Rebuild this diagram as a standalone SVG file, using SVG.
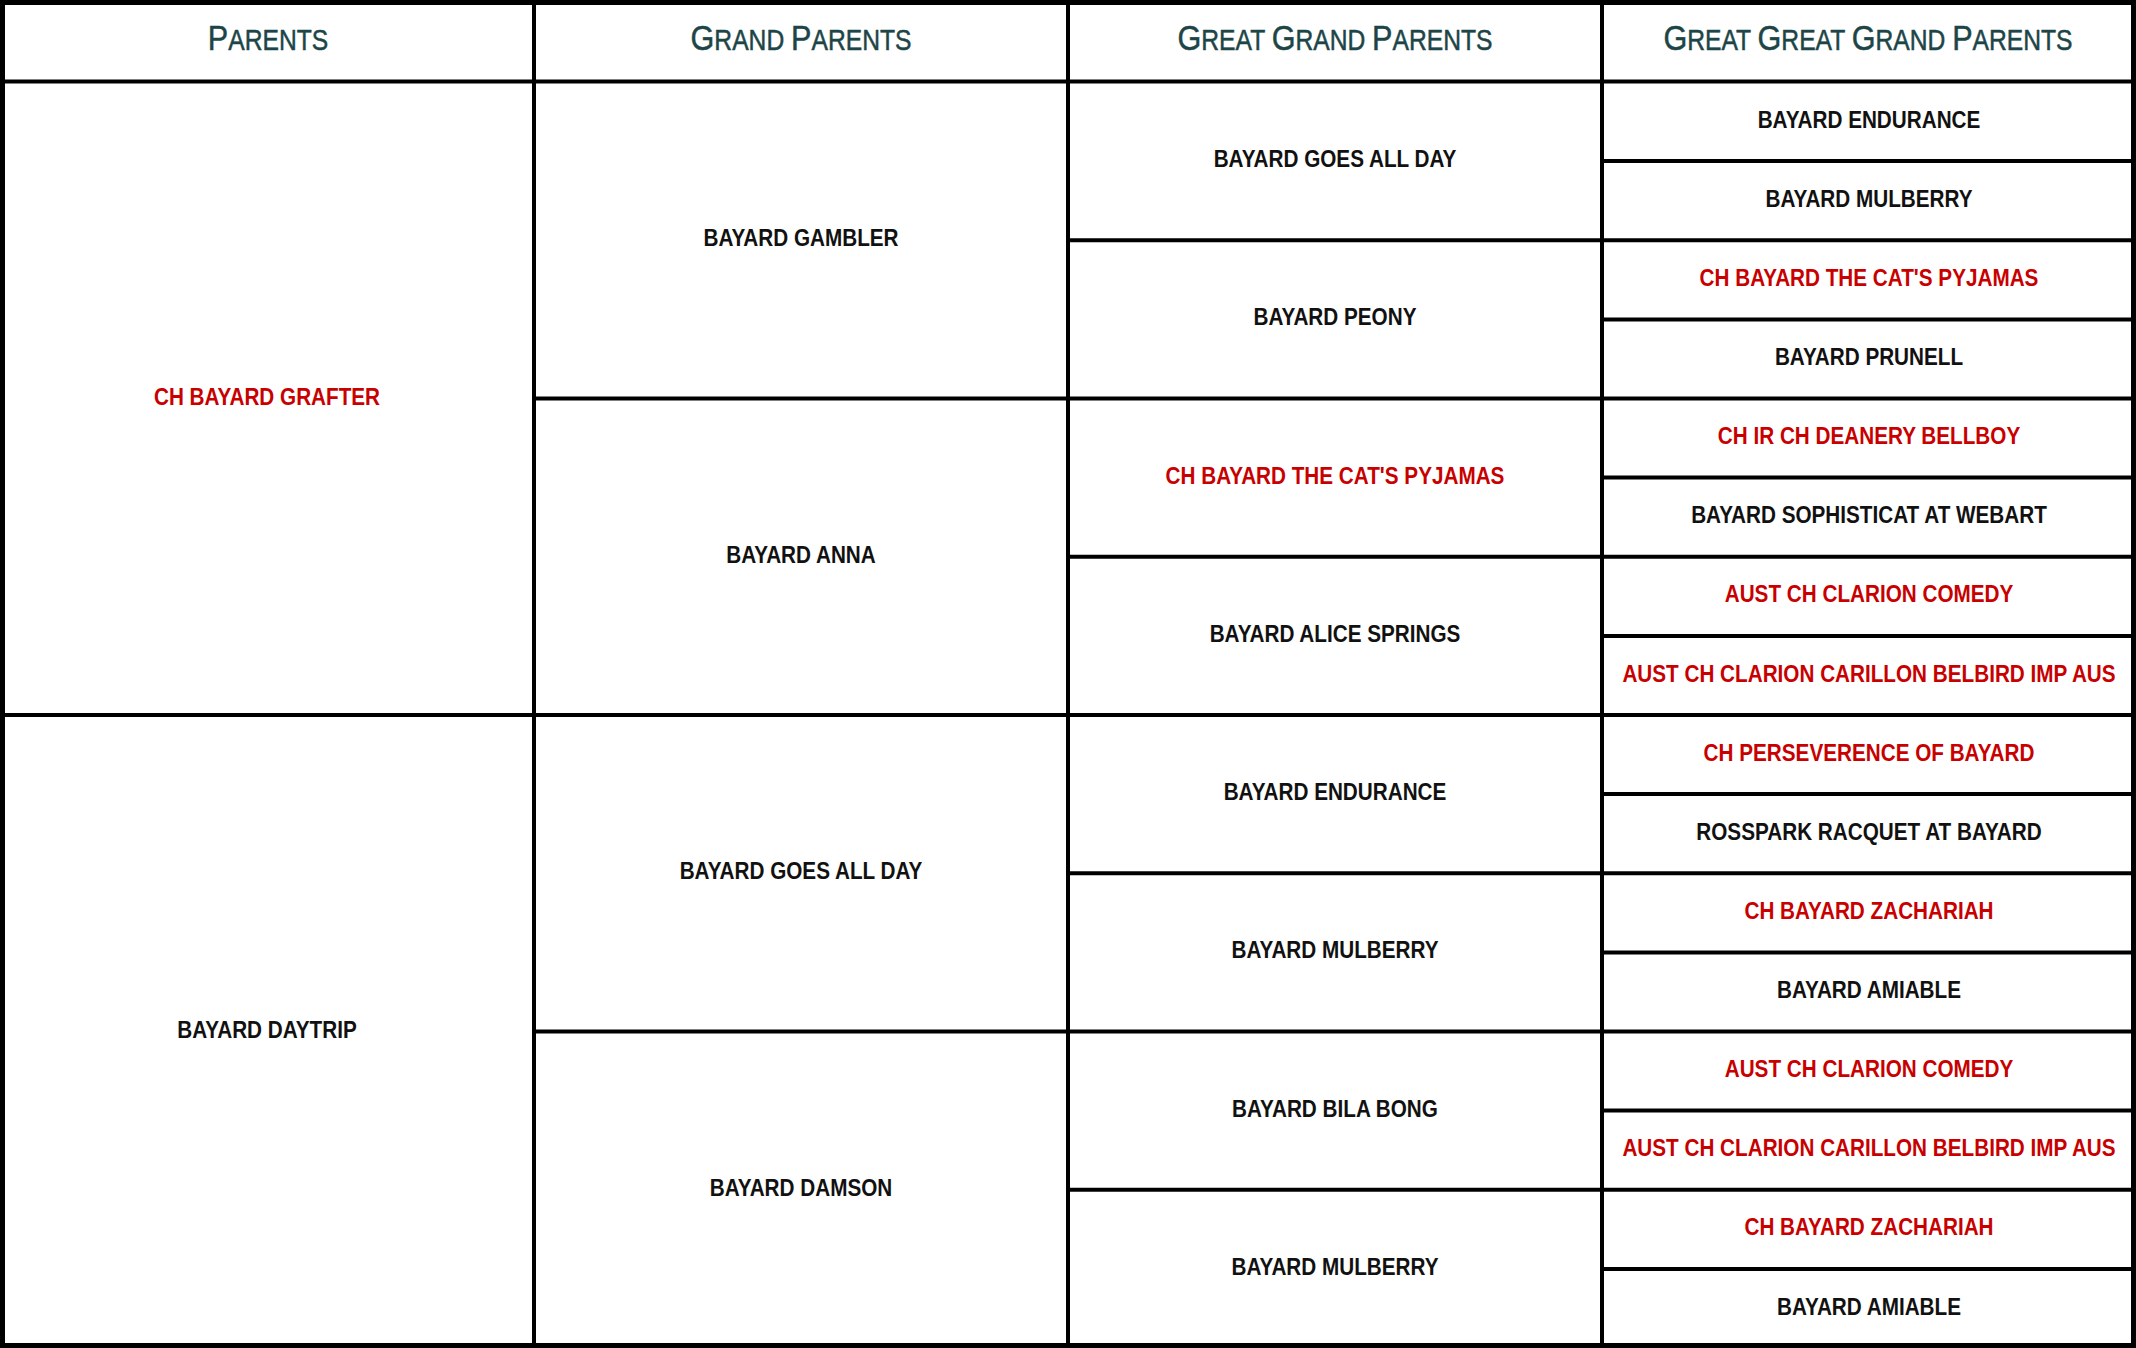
<svg xmlns="http://www.w3.org/2000/svg" width="2136" height="1348" viewBox="0 0 2136 1348">
<style>
.ln{stroke:#000;stroke-width:4;fill:none}
.h{font-family:"Liberation Sans",Arial,sans-serif;font-size:29px;fill:#1d4547;stroke:#1d4547;stroke-width:0.5;text-anchor:middle}
.h .b{font-size:36px}
.n{font-family:"Liberation Sans",Arial,sans-serif;font-weight:700;font-size:23px;fill:#111;text-anchor:middle}
.r{fill:#c80000}
</style>
<rect width="2136" height="1348" fill="#fff"/>
<g id="headers">
<text class="h" transform="translate(268,50) scale(0.85,1)"><tspan class="b">P</tspan>ARENTS</text>
<text class="h" transform="translate(801,50) scale(0.85,1)"><tspan class="b">G</tspan>RAND <tspan class="b">P</tspan>ARENTS</text>
<text class="h" transform="translate(1335,50) scale(0.85,1)"><tspan class="b">G</tspan>REAT <tspan class="b">G</tspan>RAND <tspan class="b">P</tspan>ARENTS</text>
<text class="h" transform="translate(1868,50) scale(0.85,1)"><tspan class="b">G</tspan>REAT <tspan class="b">G</tspan>REAT <tspan class="b">G</tspan>RAND <tspan class="b">P</tspan>ARENTS</text>
</g>
<g id="grid">
<line class="ln" x1="534" y1="0" x2="534" y2="1348"/>
<line class="ln" x1="1068" y1="0" x2="1068" y2="1348"/>
<line class="ln" x1="1602" y1="0" x2="1602" y2="1348"/>
<line class="ln" x1="0" y1="81.5" x2="2136" y2="81.5"/>
<line class="ln" x1="0" y1="715" x2="2136" y2="715"/>
<line class="ln" x1="534" y1="398.5" x2="2136" y2="398.5"/>
<line class="ln" x1="534" y1="1031.5" x2="2136" y2="1031.5"/>
<line class="ln" x1="1068" y1="240.25" x2="2136" y2="240.25"/>
<line class="ln" x1="1068" y1="556.75" x2="2136" y2="556.75"/>
<line class="ln" x1="1068" y1="873.25" x2="2136" y2="873.25"/>
<line class="ln" x1="1068" y1="1189.75" x2="2136" y2="1189.75"/>
<line class="ln" x1="1602" y1="161.1" x2="2136" y2="161.1"/>
<line class="ln" x1="1602" y1="319.4" x2="2136" y2="319.4"/>
<line class="ln" x1="1602" y1="477.6" x2="2136" y2="477.6"/>
<line class="ln" x1="1602" y1="635.9" x2="2136" y2="635.9"/>
<line class="ln" x1="1602" y1="794.1" x2="2136" y2="794.1"/>
<line class="ln" x1="1602" y1="952.4" x2="2136" y2="952.4"/>
<line class="ln" x1="1602" y1="1110.6" x2="2136" y2="1110.6"/>
<line class="ln" x1="1602" y1="1268.9" x2="2136" y2="1268.9"/>
<rect x="2.5" y="2.5" width="2131" height="1343" fill="none" stroke="#000" stroke-width="5"/>
</g>
<g id="parents">
<g id="p1"><text class="n r" transform="translate(267,404.5) scale(0.9,1)">CH BAYARD GRAFTER</text></g>
<g id="p2"><text class="n" transform="translate(267,1037.5) scale(0.9,1)">BAYARD DAYTRIP</text></g>
</g>
<g id="grandparents">
<g id="gp1"><text class="n" transform="translate(801,246.3) scale(0.9,1)">BAYARD GAMBLER</text></g>
<g id="gp2"><text class="n" transform="translate(801,562.8) scale(0.9,1)">BAYARD ANNA</text></g>
<g id="gp3"><text class="n" transform="translate(801,879.3) scale(0.9,1)">BAYARD GOES ALL DAY</text></g>
<g id="gp4"><text class="n" transform="translate(801,1195.8) scale(0.9,1)">BAYARD DAMSON</text></g>
</g>
<g id="greatgrandparents">
<g id="ggp1"><text class="n" transform="translate(1335,167.1) scale(0.9,1)">BAYARD GOES ALL DAY</text></g>
<g id="ggp2"><text class="n" transform="translate(1335,325.4) scale(0.9,1)">BAYARD PEONY</text></g>
<g id="ggp3"><text class="n r" transform="translate(1335,483.6) scale(0.9,1)">CH BAYARD THE CAT'S PYJAMAS</text></g>
<g id="ggp4"><text class="n" transform="translate(1335,641.9) scale(0.9,1)">BAYARD ALICE SPRINGS</text></g>
<g id="ggp5"><text class="n" transform="translate(1335,800.1) scale(0.9,1)">BAYARD ENDURANCE</text></g>
<g id="ggp6"><text class="n" transform="translate(1335,958.4) scale(0.9,1)">BAYARD MULBERRY</text></g>
<g id="ggp7"><text class="n" transform="translate(1335,1116.6) scale(0.9,1)">BAYARD BILA BONG</text></g>
<g id="ggp8"><text class="n" transform="translate(1335,1274.9) scale(0.9,1)">BAYARD MULBERRY</text></g>
</g>
<g id="greatgreatgrandparents">
<g id="gggp1"><text class="n" transform="translate(1869,127.6) scale(0.9,1)">BAYARD ENDURANCE</text></g>
<g id="gggp2"><text class="n" transform="translate(1869,206.7) scale(0.9,1)">BAYARD MULBERRY</text></g>
<g id="gggp3"><text class="n r" transform="translate(1869,285.8) scale(0.9,1)">CH BAYARD THE CAT'S PYJAMAS</text></g>
<g id="gggp4"><text class="n" transform="translate(1869,365) scale(0.9,1)">BAYARD PRUNELL</text></g>
<g id="gggp5"><text class="n r" transform="translate(1869,444.1) scale(0.9,1)">CH IR CH DEANERY BELLBOY</text></g>
<g id="gggp6"><text class="n" transform="translate(1869,523.2) scale(0.9,1)">BAYARD SOPHISTICAT AT WEBART</text></g>
<g id="gggp7"><text class="n r" transform="translate(1869,602.3) scale(0.9,1)">AUST CH CLARION COMEDY</text></g>
<g id="gggp8"><text class="n r" transform="translate(1869,681.5) scale(0.9,1)">AUST CH CLARION CARILLON BELBIRD IMP AUS</text></g>
<g id="gggp9"><text class="n r" transform="translate(1869,760.6) scale(0.9,1)">CH PERSEVERENCE OF BAYARD</text></g>
<g id="gggp10"><text class="n" transform="translate(1869,839.7) scale(0.9,1)">ROSSPARK RACQUET AT BAYARD</text></g>
<g id="gggp11"><text class="n r" transform="translate(1869,918.8) scale(0.9,1)">CH BAYARD ZACHARIAH</text></g>
<g id="gggp12"><text class="n" transform="translate(1869,998) scale(0.9,1)">BAYARD AMIABLE</text></g>
<g id="gggp13"><text class="n r" transform="translate(1869,1077.1) scale(0.9,1)">AUST CH CLARION COMEDY</text></g>
<g id="gggp14"><text class="n r" transform="translate(1869,1156.2) scale(0.9,1)">AUST CH CLARION CARILLON BELBIRD IMP AUS</text></g>
<g id="gggp15"><text class="n r" transform="translate(1869,1235.3) scale(0.9,1)">CH BAYARD ZACHARIAH</text></g>
<g id="gggp16"><text class="n" transform="translate(1869,1314.5) scale(0.9,1)">BAYARD AMIABLE</text></g>
</g>
</svg>
